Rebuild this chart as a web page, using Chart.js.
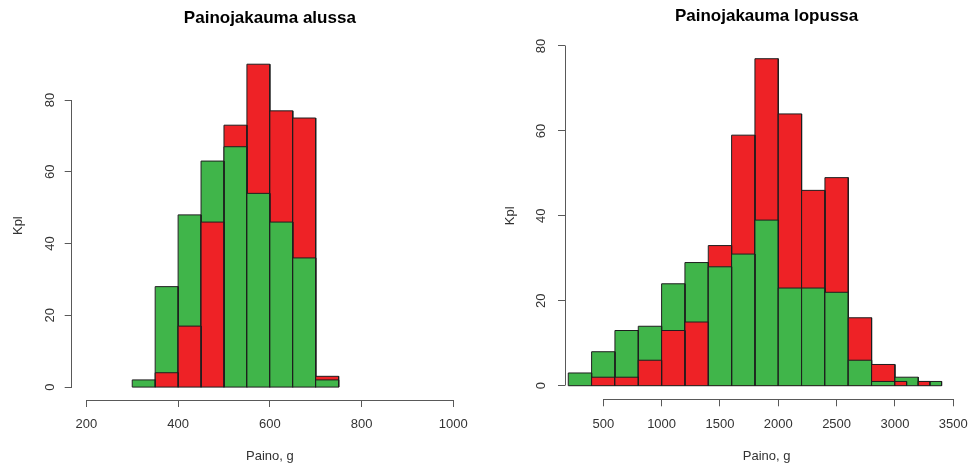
<!DOCTYPE html>
<html lang="fi">
<head>
<meta charset="utf-8">
<title>Painojakaumat</title>
<script src="https://cdn.jsdelivr.net/npm/chart.js@4"></script>
<style>
  html, body { margin: 0; padding: 0; background: #ffffff; }
  .panel { position: absolute; top: 0; }
  #leftPanel { left: 0; width: 486px; height: 466px; }
  #rightPanel { left: 486px; width: 487px; height: 466px; }
</style>
</head>
<body>
<div class="panel" id="leftPanel"><canvas id="alussa" width="486" height="466"></canvas></div>
<div class="panel" id="rightPanel"><canvas id="lopussa" width="487" height="466"></canvas></div>
<script>
// Alkupainot, 50 g:n luokat (luokkarajat ja lukumäärät)
const startEdges = [300, 350, 400, 450, 500, 550, 600, 650, 700, 750];
const startGreen = [2, 28, 48, 63, 67, 54, 46, 36, 2];
const startRed   = [0, 4, 17, 46, 73, 90, 77, 75, 3];

// Loppupainot
const endGreenEdges = [200, 400, 600, 800, 1000, 1200, 1400, 1600, 1800, 2000, 2200, 2400, 2600, 2800, 3000, 3200, 3400];
const endGreen      = [3, 8, 13, 14, 24, 29, 28, 31, 39, 23, 23, 22, 6, 1, 2, 1];
const endRedEdges   = [400, 600, 800, 1000, 1200, 1400, 1600, 1800, 2000, 2200, 2400, 2600, 2800, 3000, 3100, 3200, 3300];
const endRed        = [2, 2, 6, 13, 15, 33, 59, 77, 64, 46, 49, 16, 5, 1, 0, 1];

// Akselien rajat ja jakoviivat
const startXLim = [200, 1000];
const startYLim = [0, 90];
const startXTicks = [200, 400, 600, 800, 1000];
const startYTicks = [0, 20, 40, 60, 80];

const endXLim = [300, 3500];
const endYLim = [0, 80];
const endXTicks = [500, 1000, 1500, 2000, 2500, 3000, 3500];
const endYTicks = [0, 20, 40, 60, 80];

const GREEN = '#40b54a';
const RED = '#ee2226';
const EDGE = '#1e1e1e';
const AXIS = '#595959';
const TEXT = '#333333';
const FONT = '"Liberation Sans", Arial, Helvetica, sans-serif';

// Laajennetaan rajoja 4 % kumpaankin suuntaan
function expand(lim) {
  const d = (lim[1] - lim[0]) * 0.04;
  return [lim[0] - d, lim[1] + d];
}

// Yksi suorakaide jokaisesta luokasta; korkeimmat piirretään ensin
function histogramDatasets(series) {
  const rects = [];
  series.forEach(s => {
    s.counts.forEach((n, i) => {
      if (n > 0) rects.push({x0: s.edges[i], x1: s.edges[i + 1], h: n, color: s.color});
    });
  });
  rects.sort((a, b) => b.h - a.h);
  const total = rects.length;
  const sets = rects.map((r, i) => ({
    data: [{x: r.x0, y: 0}, {x: r.x0, y: r.h}, {x: r.x1, y: r.h}, {x: r.x1, y: 0}],
    backgroundColor: r.color,
    borderColor: EDGE,
    borderWidth: 1,
    fill: 'origin',
    order: total - i + 1
  }));
  // pohjaviiva palkkien alle
  const lo = Math.min(...series.map(s => s.edges[0]));
  const hi = Math.max(...series.map(s => s.edges[s.edges.length - 1]));
  sets.push({
    data: [{x: lo, y: 0}, {x: hi, y: 0}],
    borderColor: EDGE,
    borderWidth: 1,
    fill: false,
    order: 0
  });
  return sets;
}

function pxAlign(v) { return Math.round(v - 0.5) + 0.5; }

// Akseliviiva vain ensimmäisestä viimeiseen jakoviivaan
const axisLines = {
  id: 'axisLines',
  afterDraw(chart) {
    const {ctx, chartArea} = chart;
    const xs = chart.scales.x, ys = chart.scales.y;
    const xt = xs.ticks.map(t => t.value), yt = ys.ticks.map(t => t.value);
    ctx.save();
    ctx.strokeStyle = AXIS;
    ctx.lineWidth = 1;
    ctx.beginPath();
    const yb = pxAlign(chartArea.bottom);
    ctx.moveTo(pxAlign(xs.getPixelForValue(xt[0])), yb);
    ctx.lineTo(pxAlign(xs.getPixelForValue(xt[xt.length - 1])), yb);
    const xl = pxAlign(chartArea.left);
    ctx.moveTo(xl, pxAlign(ys.getPixelForValue(yt[0])));
    ctx.lineTo(xl, pxAlign(ys.getPixelForValue(yt[yt.length - 1])));
    ctx.stroke();
    ctx.restore();
  }
};

function makeChart(canvasId, cfg) {
  const xr = expand(cfg.xLim), yr = expand(cfg.yLim);
  return new Chart(document.getElementById(canvasId), {
    type: 'line',
    data: { datasets: histogramDatasets(cfg.series) },
    options: {
      responsive: false,
      animation: false,
      events: [],
      layout: { padding: { left: 0, right: cfg.padRight, top: 0, bottom: 0 } },
      elements: {
        point: { radius: 0, hoverRadius: 0 },
        line: { tension: 0, borderJoinStyle: 'miter' }
      },
      plugins: {
        legend: { display: false },
        tooltip: { enabled: false },
        title: {
          display: true,
          fullSize: false,
          text: cfg.title,
          color: '#000000',
          font: { family: FONT, size: 17, weight: 'bold', lineHeight: 1.2 },
          padding: { top: cfg.titleTop, bottom: cfg.titleBottom }
        }
      },
      scales: {
        x: {
          type: 'linear',
          min: xr[0],
          max: xr[1],
          afterBuildTicks(s) { s.ticks = cfg.xTicks.map(v => ({value: v})); },
          afterFit(s) { s.height = cfg.xHeight; s.paddingLeft = 0; s.paddingRight = 0; },
          border: { display: false },
          grid: { display: true, drawOnChartArea: false, drawTicks: true, tickLength: 7, tickColor: AXIS, lineWidth: 1 },
          ticks: {
            autoSkip: false, maxRotation: 0, minRotation: 0, padding: 10,
            color: TEXT, font: { family: FONT, size: 13 },
            callback: v => String(v)
          },
          title: {
            display: true, text: 'Paino, g', color: TEXT,
            font: { family: FONT, size: 13, lineHeight: 1.2 },
            padding: { top: 0, bottom: 1.7 }
          }
        },
        y: {
          type: 'linear',
          min: yr[0],
          max: yr[1],
          afterBuildTicks(s) { s.ticks = cfg.yTicks.map(v => ({value: v})); },
          afterFit(s) { s.width = cfg.yWidth; s.paddingTop = 0; s.paddingBottom = 0; },
          border: { display: false },
          grid: { display: true, drawOnChartArea: false, drawTicks: true, tickLength: 7, tickColor: AXIS, lineWidth: 1 },
          ticks: {
            autoSkip: false, minRotation: 90, maxRotation: 90, crossAlign: 'center',
            padding: cfg.yTickPad,
            color: TEXT, font: { family: FONT, size: 13 },
            callback: v => String(v)
          },
          title: {
            display: true, text: 'Kpl', color: TEXT,
            font: { family: FONT, size: 13, lineHeight: 1.2 },
            padding: { top: cfg.yTitlePad, bottom: 0 }
          }
        }
      }
    },
    plugins: [axisLines]
  });
}

makeChart('alussa', {
  title: 'Painojakauma alussa',
  series: [
    { edges: startEdges, counts: startGreen, color: GREEN },
    { edges: startEdges, counts: startRed, color: RED }
  ],
  xLim: startXLim, yLim: startYLim, xTicks: startXTicks, yTicks: startYTicks,
  padRight: 18, yWidth: 71.7, xHeight: 66,
  titleTop: 8.3, titleBottom: 22.6,
  yTickPad: 7.5, yTitlePad: 10.8
});

makeChart('lopussa', {
  title: 'Painojakauma lopussa',
  series: [
    { edges: endGreenEdges, counts: endGreen, color: GREEN },
    { edges: endRedEdges, counts: endRed, color: RED }
  ],
  xLim: endXLim, yLim: endYLim, xTicks: endXTicks, yTicks: endYTicks,
  padRight: 4.8, yWidth: 79, xHeight: 66.7,
  titleTop: 6.3, titleBottom: 5.7,
  yTickPad: 9.1, yTitlePad: 17
});
</script>
</body>
</html>
